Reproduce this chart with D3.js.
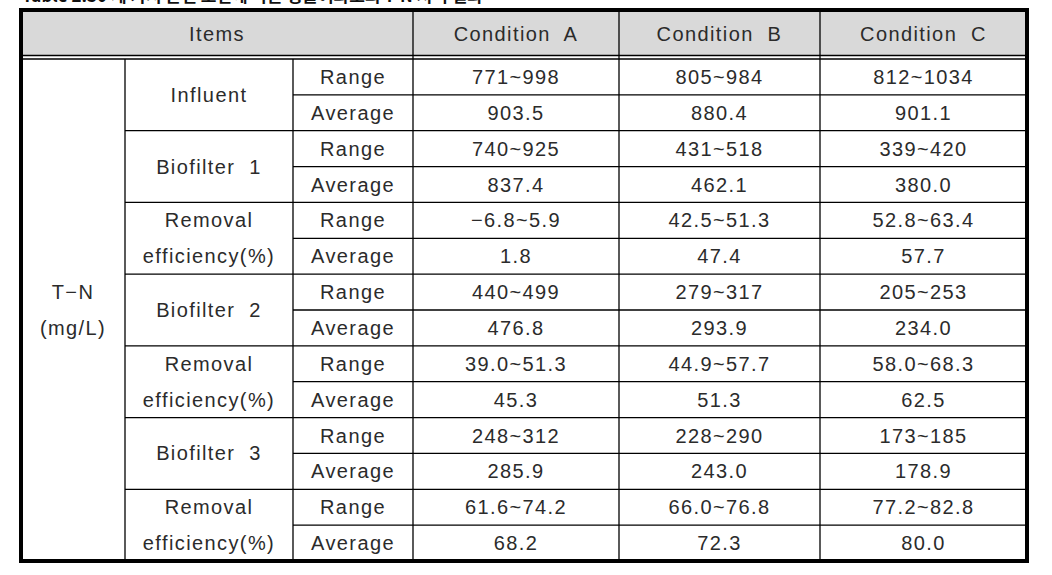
<!DOCTYPE html>
<html lang="en">
<head>
    <meta charset="UTF-8">
    <script src="https://d3js.org/d3.v7.min.js"></script>
    <style>
        body { margin: 0; background: #fff; }
        .cell-text {
            font-family: "Liberation Sans", Arial, sans-serif;
            font-size: 20px;
            letter-spacing: 1.4px;
            fill: #2b2b2b;
            text-anchor: middle;
            dominant-baseline: central;
            white-space: pre;
        }
    </style>
</head>
<body>
    <svg id="table" width="1052" height="575"></svg>
    <script>
        // table contents
        const conditions = ["Condition  A", "Condition  B", "Condition  C"];
        const parameter = ["T−N", "(mg/L)"];
        const groups = [
            ["Influent"],
            ["Biofilter  1"],
            ["Removal", "efficiency(%)"],
            ["Biofilter  2"],
            ["Removal", "efficiency(%)"],
            ["Biofilter  3"],
            ["Removal", "efficiency(%)"]
        ];
        const stats = ["Range", "Average"];
        const condA = ["771~998", "903.5", "740~925", "837.4", "−6.8~5.9", "1.8", "440~499", "476.8", "39.0~51.3", "45.3", "248~312", "285.9", "61.6~74.2", "68.2"];
        const condB = ["805~984", "880.4", "431~518", "462.1", "42.5~51.3", "47.4", "279~317", "293.9", "44.9~57.7", "51.3", "228~290", "243.0", "66.0~76.8", "72.3"];
        const condC = ["812~1034", "901.1", "339~420", "380.0", "52.8~63.4", "57.7", "205~253", "234.0", "58.0~68.3", "62.5", "173~185", "178.9", "77.2~82.8", "80.0"];
        const values = [condA, condB, condC];

        const svg = d3.select("#table");
        const tLeft = 21, tRight = 1027, tTop = 10, headBottom = 55.5, bodyTop = 59, tBottom = 561;
        const colEdges = [tLeft, 125, 293, 413, 619, 820, tRight];

        const nRows = condA.length;
        const y = d3.scaleLinear().domain([0, nRows]).range([bodyTop, tBottom]);
        const rowMid = i => (y(i) + y(i + 1)) / 2;
        const colMid = c => (colEdges[c] + colEdges[c + 1]) / 2;

        // caption (cut off by the page top, as in the source)
        svg.append("text")
            .attr("x", 22).attr("y", 2)
            .style("font-family", "'Noto Sans CJK KR', sans-serif")
            .style("font-size", "17px").style("font-weight", "bold").style("fill", "#111")
            .text("Table 2.30  세 가지 운전 조건에 따른 생물여과조의 T-N 처리 결과");

        // header
        svg.append("rect")
            .attr("x", tLeft).attr("y", tTop)
            .attr("width", tRight - tLeft).attr("height", headBottom - tTop)
            .attr("fill", "#d9d9d9");

        const lines = svg.append("g").attr("stroke", "#000").attr("stroke-width", 1.3);

        // double line under header
        [headBottom, bodyTop].forEach(v => {
            lines.append("line").attr("x1", tLeft).attr("x2", tRight).attr("y1", v).attr("y2", v);
        });

        // vertical lines
        lines.selectAll("line.vfull")
            .data([413, 619, 820])
            .join("line").attr("class", "vfull")
            .attr("x1", d => d).attr("x2", d => d)
            .attr("y1", tTop).attr("y2", tBottom);
        lines.selectAll("line.vbody")
            .data([125, 293])
            .join("line").attr("class", "vbody")
            .attr("x1", d => d).attr("x2", d => d)
            .attr("y1", bodyTop).attr("y2", tBottom);

        // horizontal row lines
        const rowLines = d3.range(1, nRows);
        lines.selectAll("line.h")
            .data(rowLines)
            .join("line").attr("class", "h")
            .attr("x1", d => d % 2 === 0 ? 125 : 293)
            .attr("x2", tRight)
            .attr("y1", d => y(d)).attr("y2", d => y(d));

        // outer border
        svg.append("rect")
            .attr("x", tLeft).attr("y", tTop)
            .attr("width", tRight - tLeft).attr("height", tBottom - tTop)
            .attr("fill", "none").attr("stroke", "#000").attr("stroke-width", 4);

        const txt = svg.append("g");

        // header texts
        txt.append("text").attr("class", "cell-text")
            .attr("x", (tLeft + 413) / 2).attr("y", (tTop + headBottom) / 2 + 1)
            .text("Items");
        txt.selectAll("text.cond")
            .data(conditions)
            .join("text").attr("class", "cell-text cond")
            .attr("x", (d, i) => colMid(i + 3))
            .attr("y", (tTop + headBottom) / 2 + 1)
            .text(d => d);

        // parameter
        txt.selectAll("text.param")
            .data(parameter)
            .join("text").attr("class", "cell-text param")
            .attr("x", colMid(0))
            .attr("y", (d, i) => rowMid(6 + i))
            .text(d => d);

        // groups
        groups.forEach((g, gi) => {
            g.forEach((line, li) => {
                const yy = g.length === 1 ? y(gi * 2 + 1) : rowMid(gi * 2 + li);
                txt.append("text").attr("class", "cell-text")
                    .attr("x", colMid(1)).attr("y", yy)
                    .text(line);
            });
        });

        // stats labels
        txt.selectAll("text.stat")
            .data(d3.range(nRows))
            .join("text").attr("class", "cell-text stat")
            .attr("x", colMid(2)).attr("y", d => rowMid(d))
            .text(d => stats[d % 2]);

        // values
        values.forEach((col, ci) => {
            txt.selectAll("text.v" + ci)
                .data(col)
                .join("text").attr("class", "cell-text v" + ci)
                .attr("x", colMid(ci + 3)).attr("y", (d, i) => rowMid(i))
                .text(d => d);
        });
    </script>
</body>
</html>
